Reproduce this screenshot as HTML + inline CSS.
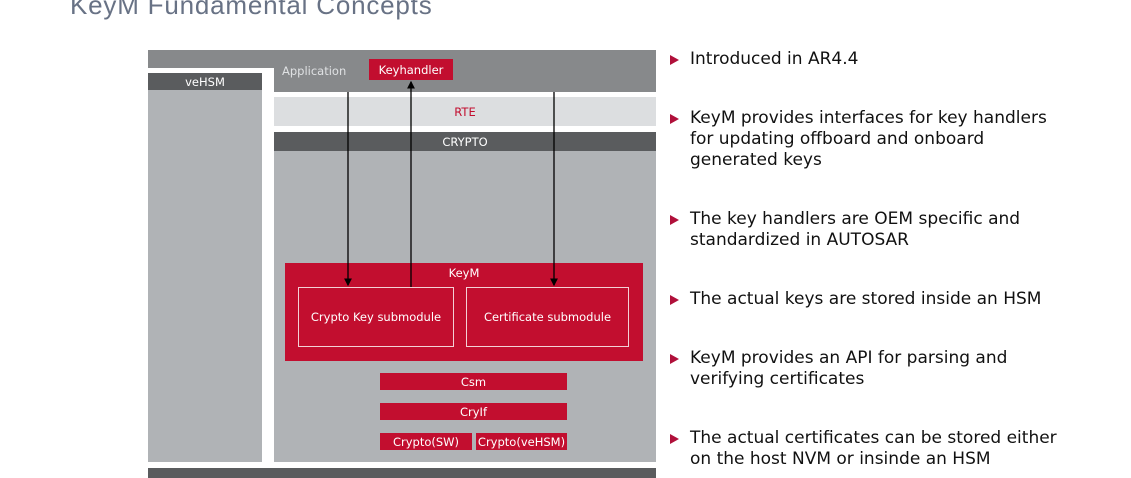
<!DOCTYPE html>
<html><head><meta charset="utf-8"><style>
body{margin:0;width:1131px;height:478px;background:#fff;position:relative;overflow:hidden;font-family:"DejaVu Sans","Liberation Sans",sans-serif}
.a{position:absolute;box-sizing:border-box}
.c{display:flex;align-items:center;justify-content:center;color:#fff;font-size:11.5px}
.r{background:#c20e2f}
.t{position:absolute;left:690px;font-size:17px;line-height:21px;color:#111;white-space:nowrap}
.tri{position:absolute;left:670px;width:0;height:0;border-top:5px solid transparent;border-bottom:5px solid transparent;border-left:9px solid #b0103a}
</style></head><body>
<div class="a" style="left:70px;top:-10px;font-family:'Liberation Sans',sans-serif;font-size:26px;color:#687285;letter-spacing:0.8px">KeyM Fundamental Concepts</div>

<div class="a" style="left:148px;top:50px;width:508px;height:42px;background:#87898b"></div>
<div class="a" style="left:148px;top:68px;width:126px;height:410px;background:#fff"></div>
<div class="a c" style="left:148px;top:73px;width:114px;height:17px;background:#5a5c5e">veHSM</div>
<div class="a" style="left:148px;top:90px;width:114px;height:372px;background:#b0b3b6"></div>
<div class="a" style="left:274px;top:68px;width:382px;height:24px;background:#87898b"></div>
<div class="a" style="left:282px;top:64px;font-size:11.5px;color:#dfe1e3">Application</div>
<div class="a c r" style="left:369px;top:59px;width:84px;height:21px">Keyhandler</div>
<div class="a c" style="left:274px;top:97px;width:382px;height:29px;background:#dcdee0;color:#c20e2f">RTE</div>
<div class="a c" style="left:274px;top:132px;width:382px;height:19px;background:#5a5c5e">CRYPTO</div>
<div class="a" style="left:274px;top:151px;width:382px;height:311px;background:#b0b3b6"></div>
<div class="a" style="left:148px;top:468px;width:508px;height:10px;background:#5a5c5e"></div>

<div class="a r" style="left:285px;top:263px;width:358px;height:98px"></div>
<div class="a" style="left:285px;top:266px;width:358px;text-align:center;color:#fff;font-size:11.5px">KeyM</div>
<div class="a c" style="left:298px;top:287px;width:156px;height:60px;border:1.5px solid #f3d0d6">Crypto Key submodule</div>
<div class="a c" style="left:466px;top:287px;width:163px;height:60px;border:1.5px solid #f3d0d6">Certificate submodule</div>
<div class="a c r" style="left:380px;top:373px;width:187px;height:17px">Csm</div>
<div class="a c r" style="left:380px;top:403px;width:187px;height:17px">CryIf</div>
<div class="a c r" style="left:380px;top:433px;width:92px;height:17px">Crypto(SW)</div>
<div class="a c r" style="left:476px;top:433px;width:91px;height:17px">Crypto(veHSM)</div>

<svg class="a" style="left:0;top:0" width="1131" height="478">
<defs><marker id="m" markerWidth="6" markerHeight="6" refX="5" refY="3" orient="auto"><path d="M0,0L6,3L0,6z" fill="#000"/></marker></defs>
<line x1="348" y1="92" x2="348" y2="285" stroke="#000" stroke-width="1.3" marker-end="url(#m)"/>
<line x1="411" y1="287" x2="411" y2="82" stroke="#000" stroke-width="1.3" marker-end="url(#m)"/>
<line x1="554" y1="92" x2="554" y2="285" stroke="#000" stroke-width="1.3" marker-end="url(#m)"/>
</svg>

<div class="tri" style="top:55px"></div><div class="t" style="top:49px">Introduced in AR4.4</div>
<div class="tri" style="top:114px"></div><div class="t" style="top:108px">KeyM provides interfaces for key handlers<br>for updating offboard and onboard<br>generated keys</div>
<div class="tri" style="top:215px"></div><div class="t" style="top:209px">The key handlers are OEM specific and<br>standardized in AUTOSAR</div>
<div class="tri" style="top:295px"></div><div class="t" style="top:289px">The actual keys are stored inside an HSM</div>
<div class="tri" style="top:354px"></div><div class="t" style="top:348px">KeyM provides an API for parsing and<br>verifying certificates</div>
<div class="tri" style="top:434px"></div><div class="t" style="top:428px">The actual certificates can be stored either<br>on the host NVM or insinde an HSM</div>
</body></html>
